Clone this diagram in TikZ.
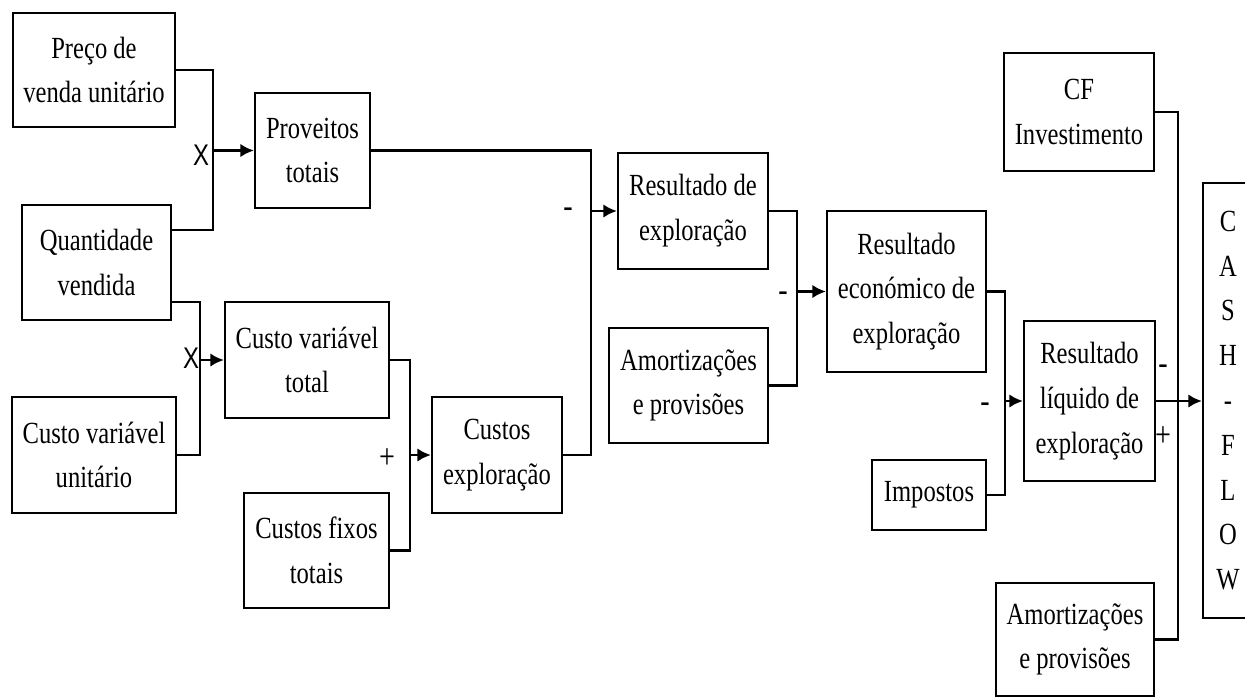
\documentclass[tikz,border=0pt]{standalone}
\usepackage{fontspec}
\setmainfont{Liberation Serif}[FakeStretch=0.8]
\newfontfamily\sinalfont{Liberation Sans}[FakeStretch=0.8]
\usetikzlibrary{arrows.meta, positioning, calc}

\tikzset{
  caixa/.style={draw, line width=1.3pt, align=center, inner sep=2pt, font=\fontsize{17.5}{25.5}\selectfont},
  liga/.style={line width=1.3pt},
  seta/.style={line width=1.4pt, -{Latex[length=0.27cm, width=0.27cm]}},
  sinal/.style={inner sep=0pt, font=\fontsize{20}{20}\selectfont},
  vezes/.style={inner sep=0pt, font=\sinalfont\fontsize{17}{17}\selectfont},
}

\begin{document}
\begin{tikzpicture}[x=0.02cm, y=-0.02cm]
        \useasboundingbox (0,0) rectangle (1245,697);

        % entradas de proveitos e custos
        \node[caixa, minimum width=3.24cm, minimum height=2.28cm] (preco) at (94,70) {Preço de\\venda unitário};
        \node[caixa, minimum width=2.98cm, minimum height=2.30cm] (quant) at (96.5,262.5) {Quantidade\\vendida};
        \node[caixa, minimum width=3.28cm, minimum height=2.32cm] (cvu) at (94,455) {Custo variável\\unitário};
        \node[caixa, minimum width=2.30cm, minimum height=2.30cm] (prov) at (312.5,150.5) {Proveitos\\totais};
        \node[caixa, minimum width=3.28cm, minimum height=2.32cm] (cvt) at (307,360) {Custo variável\\total};
        \node[caixa, minimum width=2.90cm, minimum height=2.30cm] (cft) at (316.5,550.5) {Custos fixos\\totais};
        \node[caixa, minimum width=2.60cm, minimum height=2.32cm] (cexp) at (497,455) {Custos\\exploração};

        % resultados
        \node[caixa, minimum width=3.00cm, minimum height=2.32cm] (rexp) at (693,211) {Resultado de\\exploração};
        \node[caixa, minimum width=3.18cm, minimum height=2.30cm] (amort1) at (688.5,385.5) {Amortizações\\e provisões};
        \node[caixa, minimum width=3.18cm, minimum height=3.22cm] (recon) at (906.5,291.5) {Resultado\\económico de\\exploração};
        \node[caixa, minimum width=2.28cm, minimum height=1.40cm] (impostos) at (929,495) {Impostos};
        \node[caixa, minimum width=2.62cm, minimum height=3.20cm] (rliq) at (1089.5,401) {Resultado\\líquido de\\exploração};
        \node[caixa, minimum width=3.00cm, minimum height=2.36cm] (cfinv) at (1079,112) {CF\\Investimento};
        \node[caixa, minimum width=3.16cm, minimum height=2.26cm] (amort2) at (1075,639.5) {Amortizações\\e provisões};
        \node[caixa, minimum width=1.00cm, minimum height=8.70cm] (cash) at (1228,400.5) {C\\A\\S\\H\\-\\F\\L\\O\\W};

        % pontos de juncao
        \coordinate (j1) at (213,150.5);
        \coordinate (j2) at (200,360);
        \coordinate (j3) at (410,455);
        \coordinate (j4) at (591,211);
        \coordinate (j5) at (797,291.5);
        \coordinate (j6) at (1005,401);
        \coordinate (j7) at (1178,401);

        \draw[liga] (preco.east) -| (j1) |- ([yshift=0.65cm]quant.east);
        \draw[seta] (j1) -- (prov.west);
        \draw[liga] ([yshift=-0.79cm]quant.east) -| (j2) |- (cvu.east);
        \draw[seta] (j2) -- (cvt.west);
        \draw[liga] (cvt.east) -| (j3) |- (cft.east);
        \draw[seta] (j3) -- (cexp.west);
        \draw[liga] (prov.east) -| (j4) |- (cexp.east);
        \draw[seta] (j4) -- (rexp.west);
        \draw[liga] (rexp.east) -| (j5) |- (amort1.east);
        \draw[seta] (j5) -- (recon.west);
        \draw[liga] (recon.east) -| (j6) |- (impostos.east);
        \draw[seta] (j6) -- (rliq.west);
        \draw[liga] (cfinv.east) -| (j7) |- (amort2.east);
        \draw[seta] (rliq.east) -- (rliq.east -| cash.west);

        % sinais
        \node[vezes] (x1) at (201,155) {X};
        \node[vezes] (x2) at (191,358) {X};
        \node[sinal] (s1) at (387,459) {+};
        \node[sinal] (s2) at (568,213) {-};
        \node[sinal] (s3) at (783,297) {-};
        \node[sinal] (s4) at (985,408) {-};
        \node[sinal] (s5) at (1163,370) {-};
        \node[sinal] (s6) at (1163,437) {+};
\end{tikzpicture}
\end{document}
